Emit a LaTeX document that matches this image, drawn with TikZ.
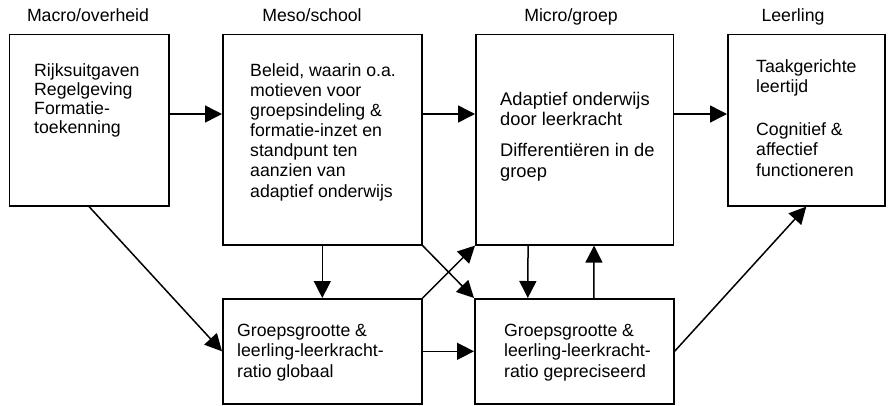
\documentclass[tikz,border=0pt]{standalone}
\usepackage{fontspec}
\setmainfont{Liberation Sans}
\usetikzlibrary{arrows.meta, calc}

\begin{document}
\begin{tikzpicture}[x=1pt, y=-1pt,
    box/.style={draw, line width=1.6pt, inner sep=0pt, anchor=north west},
    txt/.style={anchor=base west, align=left, inner sep=0pt, font=\fontsize{17.7}{20.1}\selectfont},
    head/.style={anchor=base, inner sep=0pt, font=\fontsize{17.7}{20.1}\selectfont},
    arr/.style={line width=1.5pt, -{Triangle[length=17pt, width=17pt]}}]
    \useasboundingbox (0,0) rectangle (888,405);

    \node[head] (hmacro) at (88,21) {Macro/overheid};
    \node[head] (hmeso) at (312,21) {Meso/school};
    \node[head] (hmicro) at (571,21) {Micro/groep};
    \node[head] (hleerling) at (793,21) {Leerling};

    \node[box, minimum width=159.5pt, minimum height=171.5pt] (macro) at (8.5,33.5) {};
    \node[box, minimum width=199pt, minimum height=210.5pt] (meso) at (222,33.5) {};
    \node[box, minimum width=197.5pt, minimum height=210.5pt] (micro) at (475,33.5) {};
    \node[box, minimum width=157pt, minimum height=171.5pt] (leerling) at (727,33.5) {};
    \node[box, minimum width=199pt, minimum height=105pt] (globaal) at (222,298) {};
    \node[box, minimum width=199pt, minimum height=105pt] (precies) at (474,298) {};

    \node[txt, font=\fontsize{17.7}{19}\selectfont] (tmacro) at (34,133) {Rijksuitgaven\\Regelgeving\\Formatie-\\toekenning};
    \node[txt] (tmeso) at (250,197) {Beleid, waarin o.a.\\motieven voor\\groepsindeling \&\\formatie-inzet en\\standpunt ten\\aanzien van\\adaptief onderwijs};
    \node[txt, font=\fontsize{18.3}{20.1}\selectfont] (tmicro) at (500,177) {Adaptief onderwijs\\door leerkracht\\[11pt]Differentiëren in de\\groep};
    \node[txt] (tleerling) at (756,176) {Taakgerichte\\leertijd\\[23pt]Cognitief \&\\affectief\\functioneren};
    \node[txt] (tglobaal) at (237,377) {Groepsgrootte \&\\leerling-leerkracht-\\ratio globaal};
    \node[txt] (tprecies) at (504,377) {Groepsgrootte \&\\leerling-leerkracht-\\ratio gepreciseerd};

    \coordinate (rij) at (0,114);
    \draw[arr] (macro.east |- rij) -- (meso.west |- rij);
    \draw[arr] (meso.east |- rij) -- (micro.west |- rij);
    \draw[arr] (micro.east |- rij) -- (leerling.west |- rij);
    \draw[arr] (macro.south) -- (globaal.west);
    \draw[arr] (meso.south) -- (globaal.north);
    \draw[arr] (meso.south east) -- (precies.north west);
    \draw[arr] (globaal.north east) -- (micro.south west);
    \draw[arr] (globaal.east) -- (precies.west);
    \draw[arr] ([xshift=-46.5pt]micro.south) -- ([xshift=-46.5pt]precies.north);
    \draw[arr] ([xshift=19.5pt]precies.north) -- ([xshift=19.5pt]micro.south);
    \draw[arr] (precies.east) -- (leerling.south);
\end{tikzpicture}
\end{document}
